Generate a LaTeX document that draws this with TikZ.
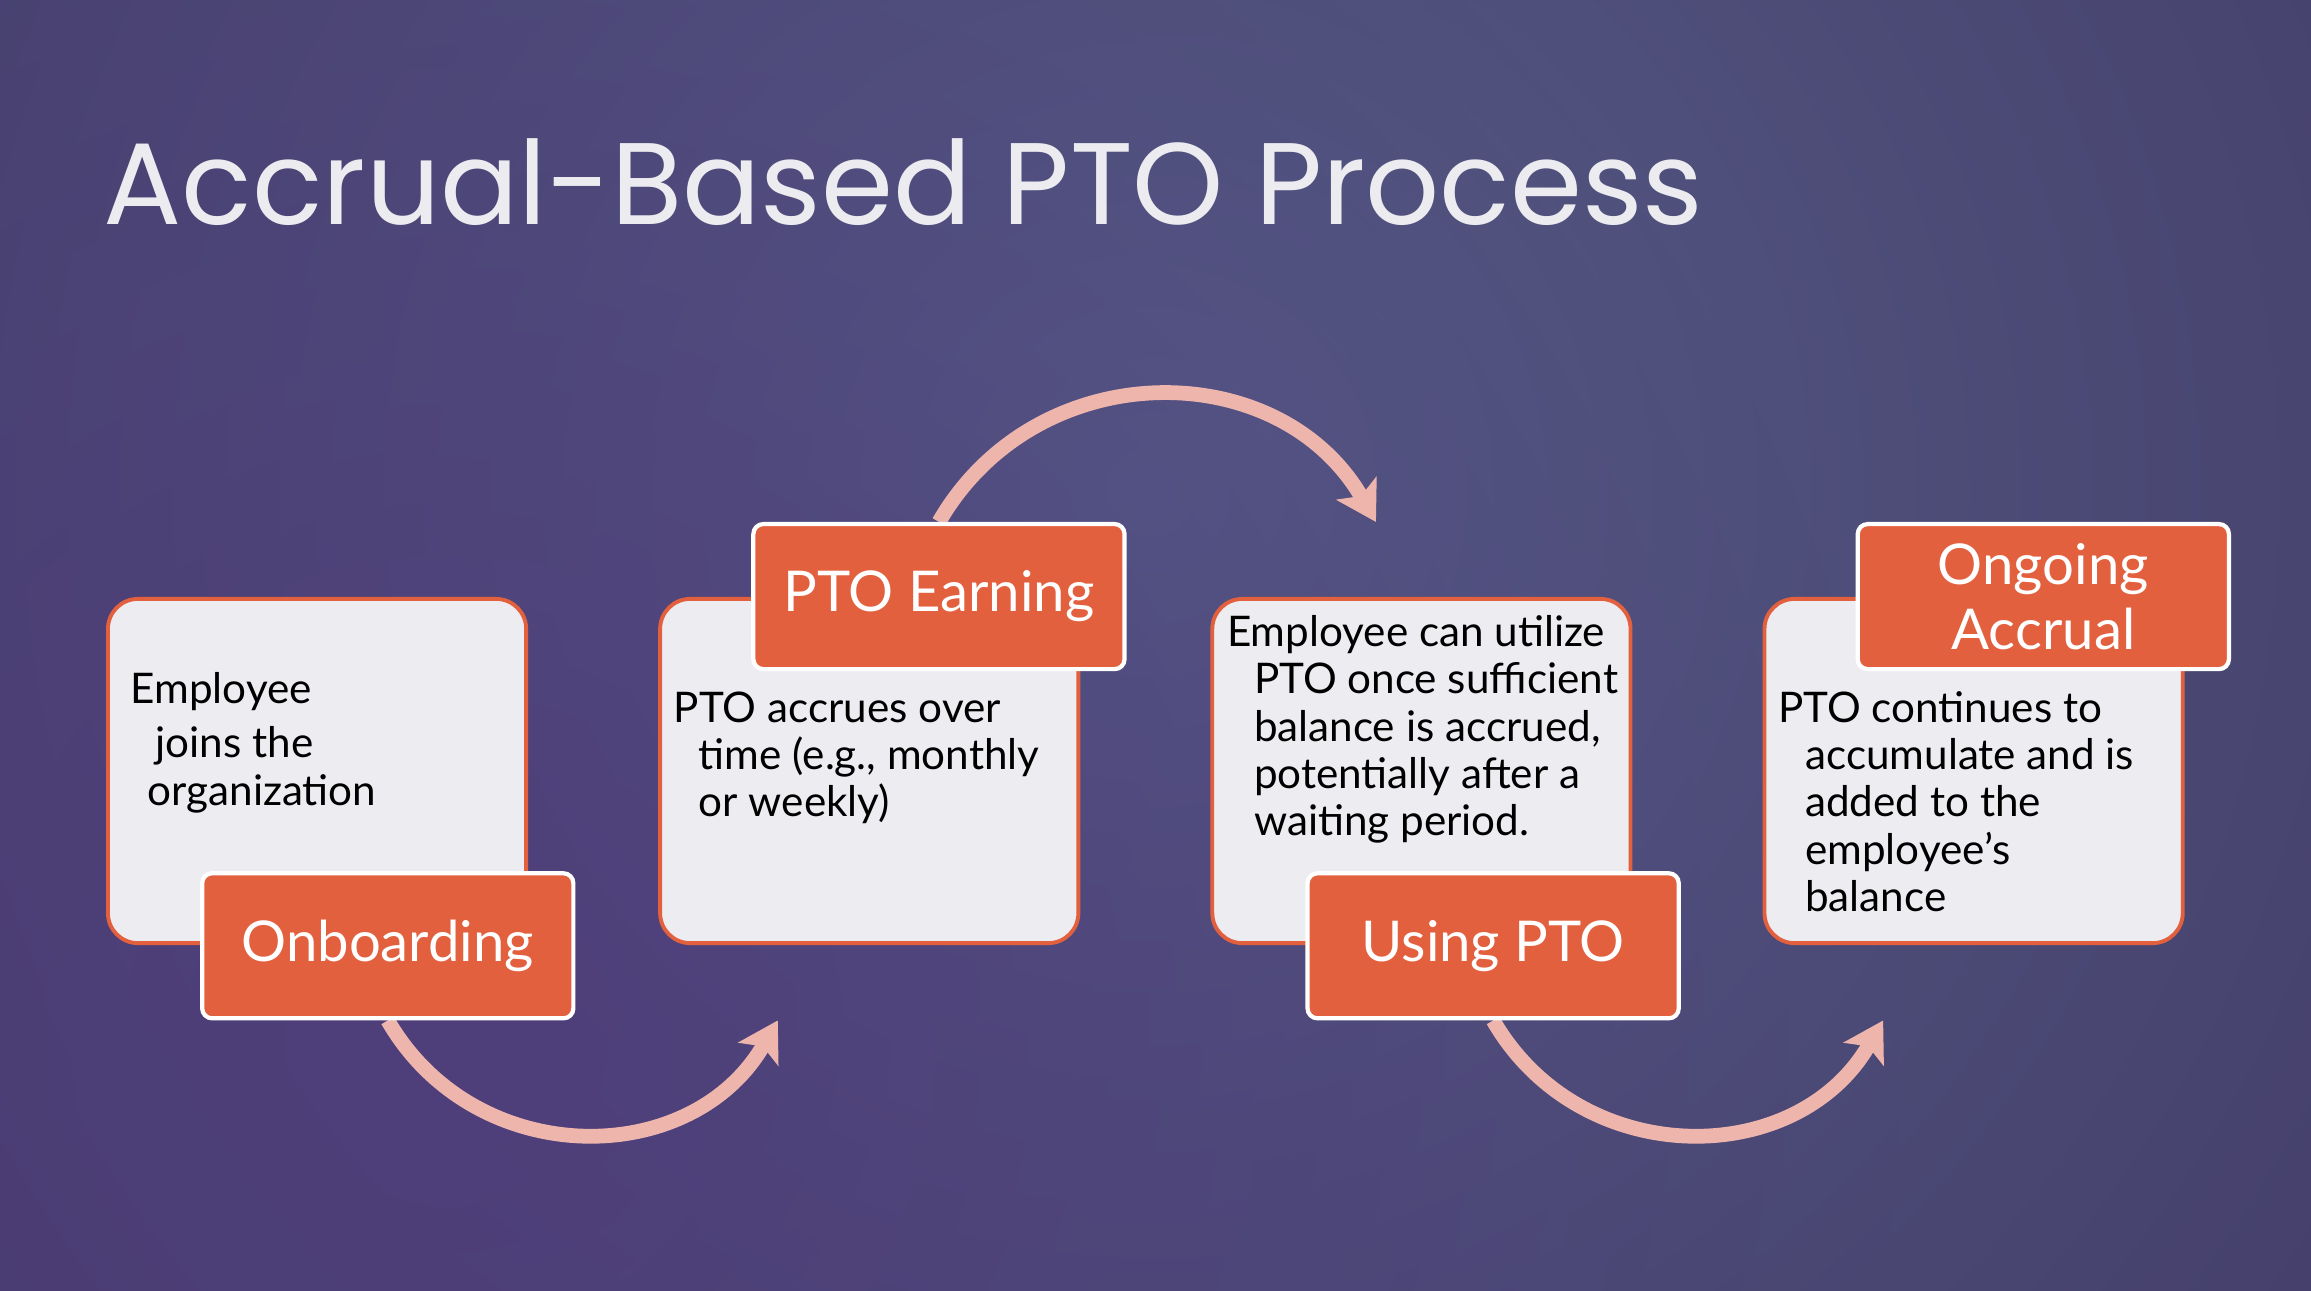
\documentclass[tikz,border=0pt]{standalone}
\usepackage{fontspec}
\setmainfont{Lato}
\newfontfamily\titlefont{Poppins}
\usepackage{tikz}
\usetikzlibrary{arrows.meta,positioning,calc,backgrounds,fadings}
\definecolor{ptoBgIn}{RGB}{85,91,134}
\definecolor{ptoBgOut}{RGB}{54,38,82}
\definecolor{ptoGlow}{RGB}{80,58,124}
\definecolor{ptoOrange}{RGB}{227,96,62}
\definecolor{ptoCard}{RGB}{237,236,241}
\definecolor{ptoPink}{RGB}{238,181,173}
\definecolor{ptoTitle}{RGB}{236,236,240}
\pgfdeclarelayer{bg}
\pgfsetlayers{bg,background,main}
\tikzfading[name=glowfade, inner color=transparent!25, outer color=transparent!100]

\begin{document}
\begin{tikzpicture}[
    x=0.01cm, y=0.01cm,
    card/.style={rectangle, rounded corners=0.3cm, draw=ptoOrange, line width=1.1pt, fill=ptoCard, minimum width=4.18cm, minimum height=3.44cm},
    tag/.style={rectangle, rounded corners=0.1cm, draw=white, line width=1.2pt, fill=ptoOrange, text=white, minimum width=3.71cm, minimum height=1.45cm, align=center, font=\fontsize{16}{18.5}\selectfont},
    note/.style={anchor=north west, inner sep=0pt, align=left, font=\fontsize{12}{13.4}\selectfont},
    flow/.style={-{Stealth[length=11pt, width=13pt, inset=2.5pt]}, line width=4.2pt, draw=ptoPink, looseness=1.14}
]
\useasboundingbox (0,0) rectangle (2311,1291);
\begin{pgfonlayer}{bg}
\clip (0,0) rectangle (2311,1291);
\shade[inner color=ptoBgIn, outer color=ptoBgOut] (-1650,-2000) rectangle (3950,3600);
\fill[ptoGlow, path fading=glowfade] (-1000,-1200) rectangle (1900,1700);
\end{pgfonlayer}
\node[anchor=base west, inner sep=0pt, text=ptoTitle, font=\titlefont\fontsize{33}{40}\selectfont] (title) at (103,1066) {Accrual-Based PTO Process};
\node[card, anchor=north west] (c1) at (106,694) {};
\node[card, right=1.3cm of c1] (c2) {};
\node[card, right=1.3cm of c2] (c3) {};
\node[card, right=1.3cm of c3] (c4) {};
\node[tag, anchor=north west, xshift=0.94cm, yshift=-2.74cm] (onb) at (c1.north west) {Onboarding};
\node[tag, anchor=north west, xshift=0.93cm, yshift=0.75cm] (earn) at (c2.north west) {PTO Earning};
\node[tag, anchor=north west, xshift=0.95cm, yshift=-2.74cm] (using) at (c3.north west) {Using PTO};
\node[tag, anchor=north west, xshift=0.93cm, yshift=0.75cm] (ongo) at (c4.north west) {Ongoing\\Accrual};
\node[note, xshift=0.24cm, yshift=-0.75cm] (t1) at (c1.north west) {Employee\\[0.07cm]\hspace*{0.25cm}joins the\\\hspace*{0.17cm}organization};
\node[note, xshift=0.15cm, yshift=-0.94cm] (t2) at (c2.north west) {PTO accrues over\\\hspace*{0.25cm}time (e.g., monthly\\\hspace*{0.25cm}or weekly)};
\node[note, xshift=0.16cm, yshift=-0.18cm] (t3) at (c3.north west) {Employee can utilize\\\hspace*{0.27cm}PTO once sufficient\\\hspace*{0.27cm}balance is accrued,\\\hspace*{0.27cm}potentially after a\\\hspace*{0.27cm}waiting period.};
\node[note, xshift=0.15cm, yshift=-0.94cm] (t4) at (c4.north west) {PTO continues to\\\hspace*{0.27cm}accumulate and is\\\hspace*{0.27cm}added to the\\\hspace*{0.27cm}employee’s\\\hspace*{0.27cm}balance};
\coordinate (tipA) at ($(onb.south)+(390,0)$);
\coordinate (tipB) at ($(earn.north)+(437,0)$);
\coordinate (tipC) at ($(using.south)+(390,0)$);
\begin{pgfonlayer}{background}
\draw[flow] (onb.south) to[out=-60, in=240] (tipA);
\draw[flow] (earn.north) to[out=60, in=120] (tipB);
\draw[flow] (using.south) to[out=-60, in=240] (tipC);
\end{pgfonlayer}
\end{tikzpicture}
\end{document}
